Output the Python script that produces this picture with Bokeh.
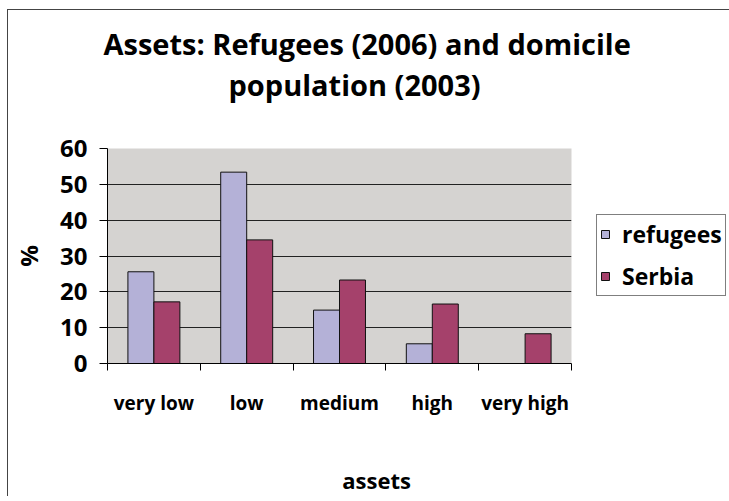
from bokeh.plotting import figure
from bokeh.models import (ColumnDataSource, Range1d, FixedTicker, Legend, LegendItem, Title,
                          LinearAxis)
from bokeh.embed import file_html
from bokeh.resources import INLINE

categories = ["very low", "low", "medium", "high", "very high"]
refugees = [25.6, 53.4, 14.9, 5.5, 0.0]
serbia = [17.2, 34.5, 23.3, 16.6, 8.3]
y_ticks = [0, 10, 20, 30, 40, 50, 60]
title_lines = ["Assets: Refugees (2006) and domicile", "population (2003)"]
x_title = "assets"
x_title_pos = 2.9  # horizontal anchor of the x-axis title (category units)
y_title = "%"
series_names = ["refugees", "Serbia"]

FONT = "Open Sans"
BAR_W = 0.28

idx = list(range(len(categories)))
centers = [i + 0.5 for i in idx]
src = ColumnDataSource(dict(
    cat=categories,
    x_ref=[c - BAR_W / 2 for c in centers],
    x_ser=[c + BAR_W / 2 for c in centers],
    refugees=refugees,
    serbia=serbia,
))

p = figure(title=None, width=716, height=484, output_backend="svg", toolbar_location=None,
           x_range=Range1d(0, len(categories)), y_range=Range1d(0, 60),
           min_border_left=99, min_border_right=150, min_border_top=138,
           min_border_bottom=128, frame_width=464, frame_height=215)
p.background_fill_color = "#D5D3D1"
p.border_fill_color = "white"
p.outline_line_color = None
p.styles = {"box-shadow": "-1px -1px 0px 0px #444444",
            "margin-top": "10px", "margin-left": "8px"}

r1 = p.vbar(x="x_ref", top="refugees", bottom=0, width=BAR_W, source=src,
            fill_color="#B4B1D7", line_color="#111111", line_width=1)
r2 = p.vbar(x="x_ser", top="serbia", bottom=0, width=BAR_W, source=src,
            fill_color="#A5416B", line_color="#111111", line_width=1)

# two-line title (second line nearest the plot is added first)
for txt, off, so in [(title_lines[1], 121, 90), (title_lines[0], -4, -90)]:
    p.add_layout(Title(text=txt, align="left", offset=off, text_font=FONT,
                       text_font_style="bold", text_font_size="29px",
                       text_color="black", standoff=so), "above")

# x axis: labels at category centres, ticks at boundaries
xa = p.xaxis[0]
xa.ticker = FixedTicker(ticks=centers, minor_ticks=[0] + [i + 1 for i in idx])
xa.major_label_overrides = {c: lab for c, lab in zip(centers, categories)}
xa.major_tick_in = 0
xa.major_tick_out = 0
xa.minor_tick_in = 0
xa.minor_tick_out = 7
xa.minor_tick_line_color = "black"
xa.axis_line_color = "black"
xa.major_label_text_font = FONT
xa.major_label_text_font_style = "bold"
xa.major_label_text_font_size = "19px"
xa.major_label_text_color = "black"
xa.major_label_standoff = 19
p.xgrid.visible = False

# x-axis title as a second, line-less axis below
xt = LinearAxis(ticker=FixedTicker(ticks=[x_title_pos], minor_ticks=[]),
                major_label_overrides={x_title_pos: x_title})
xt.axis_line_color = None
xt.major_tick_line_color = None
xt.minor_tick_line_color = None
xt.major_tick_out = 0
xt.major_tick_in = 0
xt.major_label_standoff = 46
xt.major_label_text_font = FONT
xt.major_label_text_font_style = "bold"
xt.major_label_text_font_size = "22px"
xt.major_label_text_color = "black"
p.add_layout(xt, "below")

ya = p.yaxis[0]
ya.ticker = FixedTicker(ticks=y_ticks)
ya.major_tick_in = 0
ya.major_tick_out = 8
ya.minor_tick_out = 0
ya.minor_tick_in = 0
ya.major_tick_line_color = "black"
ya.axis_line_color = "black"
ya.major_label_text_font = FONT
ya.major_label_text_font_style = "bold"
ya.major_label_text_font_size = "24px"
ya.major_label_text_color = "black"
ya.major_label_standoff = 12
ya.axis_label = y_title
ya.axis_label_text_font = FONT
ya.axis_label_text_font_style = "bold"
ya.axis_label_text_font_size = "24px"
ya.axis_label_text_color = "black"
ya.axis_label_standoff = 12
p.ygrid.grid_line_color = "#222222"
p.ygrid.grid_line_width = 1

legend = Legend(items=[LegendItem(label=series_names[0], renderers=[r1]),
                       LegendItem(label=series_names[1], renderers=[r2])],
                location=(25, 67))
legend.label_text_font = FONT
legend.label_text_font_style = "bold"
legend.label_text_font_size = "23px"
legend.label_text_color = "black"
legend.glyph_width = 10
legend.glyph_height = 10
legend.label_standoff = 12
legend.padding = 3
legend.spacing = 10
legend.margin = 0
legend.border_line_color = "black"
legend.border_line_width = 1
legend.background_fill_color = "white"
legend.background_fill_alpha = 1
p.add_layout(legend, "right")

open("out.html", "w").write(file_html(p, INLINE))
